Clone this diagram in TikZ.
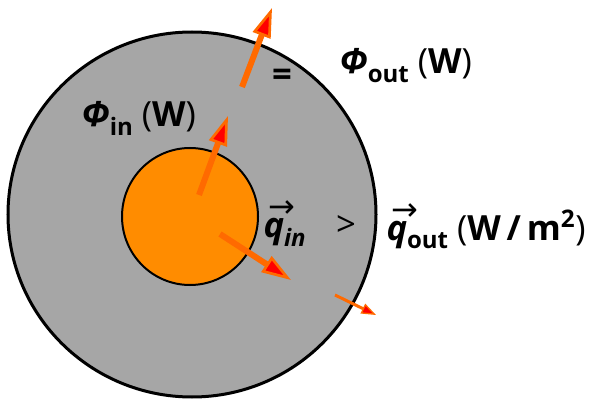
\documentclass[tikz,border=0pt]{standalone}
\usepackage{fontspec}
\setmainfont{Open Sans}
\newfontfamily\arrowfont{DejaVu Sans}
\usetikzlibrary{arrows.meta}
\tikzset{every picture/.style={line width=0.75pt}}
\definecolor{flux}{RGB}{255,106,0}
\definecolor{core}{RGB}{255,140,0}
\definecolor{shell}{RGB}{166,166,166}
\tikzset{
  fluxarrow/.style={draw=flux, line width=4.5pt, -{Triangle[length=22pt,width=14pt,line width=2pt,fill=red]}},
  smallarrow/.style={draw=flux, line width=2.25pt, -{Triangle[length=11pt,width=8pt,line width=1pt,fill=red]}},
  lbl/.style={inner sep=0.75pt, font=\fontsize{26}{30}\selectfont\bfseries},
}
\newcommand{\lowtext}[1]{\raisebox{-0.45ex}{\fontsize{18}{18}\selectfont #1}}
\newcommand{\vecq}{\rlap{\hspace{0.15em}\raisebox{15pt}{\arrowfont\mdseries\fontsize{24}{24}\selectfont →}}\textit{q}}
\newcommand{\thinpar}[1]{{\mdseries(}#1{\mdseries)}}

\begin{document}
\begin{tikzpicture}[x=0.75pt,y=0.75pt,yscale=-1,xscale=1]
\useasboundingbox (0,0) rectangle (589,399);

%Shape: Ellipse [outer shell]
\draw [line width=2.25pt, fill=shell] (192,214.5) ellipse [x radius=184, y radius=182.5];
%Shape: Circle [inner core]
\draw [line width=1.5pt, fill=core] (190,216.5) ellipse [x radius=68, y radius=68.5];

%Straight Lines [flux arrows]
\draw [fluxarrow] (242,87) -- (272,8);
\draw [fluxarrow] (199,195) -- (228,116);
\draw [fluxarrow] (220,234) -- (291,280);
\draw [smallarrow] (335,295) -- (376,315);

% Text Node
\node (phiout) [anchor=base west, lbl] at (338,74) {\textit{Φ}\lowtext{out} \thinpar{W}};
\node (eq) [lbl] at (282,78) {=};
\node (phiin) [anchor=base west, lbl] at (80,127) {\textit{Φ}\lowtext{in} \thinpar{W}};
\node (qin) [anchor=base west, lbl] at (262,238) {\vecq\lowtext{\textit{in}}};
\node (gt) [lbl, font=\fontsize{26}{30}\selectfont] at (346,226) {>};
\node (qout) [anchor=base west, lbl] at (385,240) {\vecq\lowtext{out} \thinpar{W\,/\,m\textsuperscript{2}}};

\end{tikzpicture}
\end{document}
